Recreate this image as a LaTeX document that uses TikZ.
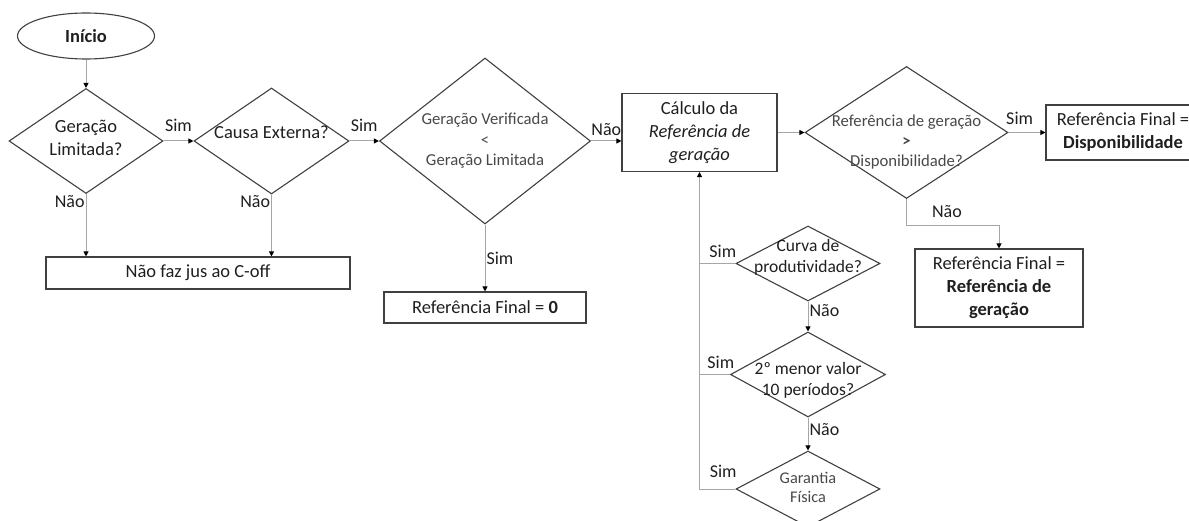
\documentclass[tikz,border=0pt]{standalone}
\usepackage{fontspec}
\setmainfont{Carlito}
\usepackage{xcolor}
\usepackage{tikz}
\usetikzlibrary{arrows.meta, positioning, calc, shapes.geometric}
\definecolor{cinzalinha}{HTML}{A6A6A6}
\definecolor{cinzaborda}{HTML}{404040}
\definecolor{cinzatexto}{HTML}{1F1F1F}
\definecolor{cinzaclaro}{HTML}{484848}
\newcommand{\dtexto}[2][0pt]{\makebox[0pt]{\raisebox{#1}[\height][\depth]{%
  \begin{tabular}{@{}c@{}}#2\end{tabular}}}}

\begin{document}
\begin{tikzpicture}[
  x=1pt, y=-1pt,
  >={Triangle[length=5pt, width=5pt, color=black]},
  every node/.style={font=\fontsize{18.5}{23}\selectfont, text=cinzatexto},
  inicio/.style={ellipse, draw=cinzaborda, line width=1.1pt, inner sep=0pt,
                 minimum width=137, minimum height=46,
                 font=\fontsize{18.5}{23}\selectfont\bfseries},
  decisao/.style={diamond, draw=cinzaborda, line width=1.1pt, inner sep=0pt},
  caixa/.style={rectangle, draw=cinzaborda, line width=1.1pt, inner sep=0pt,
                align=center},
  fluxo/.style={->, line width=1pt, cinzalinha},
  ligacao/.style={line width=1pt, cinzalinha},
  rotulo/.style={font=\fontsize{18}{22}\selectfont, inner sep=1pt}
]
\useasboundingbox (0,0) rectangle (1189,521);
\clip (0,0) rectangle (1189,521);

% inicio e primeiras perguntas
\node[inicio] (inicio) at (86,36) {Início};
\node[decisao, minimum width=154, minimum height=105] (limitada) at (86,141)
  {\dtexto[2pt]{Geração\\Limitada?}};
\node[decisao, minimum width=155, minimum height=106] (externa) at (271.5,141)
  {\dtexto[7pt]{Causa Externa?}};
\node[decisao, minimum width=211, minimum height=166, text=cinzaclaro,
      font=\fontsize{16.7}{20.5}\selectfont] (verificada) at (485,141)
  {\dtexto{Geração Verificada\\<\\Geração Limitada}};

\node[caixa, minimum width=304, minimum height=32] (naofaz) at (198,273)
  {Não faz jus ao C-off};
\node[caixa, minimum width=202, minimum height=31] (final0) at (485,307.5)
  {Referência Final = \textbf{0}};

% calculo da referencia
\node[caixa, minimum width=155, minimum height=78] (calculo) at (699.5,132.5)
  {Cálculo da\\\textit{Referência de}\\\textit{geração}};
\node[decisao, minimum width=203, minimum height=132, text=cinzaclaro,
      font=\fontsize{16.7}{20}\selectfont] (maior) at (906.5,132.5)
  {\dtexto[-10pt]{Referência de geração\\\textbf{>}\\Disponibilidade?}};
\node[caixa, minimum width=154, minimum height=55] (finaldisp) at (1123,132.5)
  {Referência Final =\\\textbf{Disponibilidade}};
\node[caixa, minimum width=168, minimum height=78] (finalref) at (999,288)
  {Referência Final =\\\textbf{Referência de}\\\textbf{geração}};

% alternativas para a referencia
\node[decisao, minimum width=144, minimum height=75,
      font=\fontsize{17.5}{21}\selectfont] (curva) at (808,263.5)
  {\dtexto[6pt]{Curva de\\produtividade?}};
\node[decisao, minimum width=155, minimum height=85,
      font=\fontsize{17.5}{21}\selectfont] (menor) at (808,374.5)
  {\dtexto[-6pt]{2º menor valor\\10 períodos?}};
\node[decisao, minimum width=144, minimum height=76, text=cinzaclaro,
      font=\fontsize{16.3}{19.5}\selectfont] (garantia) at (808,489)
  {\dtexto{Garantia\\Física}};

% ligacoes
\draw[fluxo] (inicio) -- (limitada);
\draw[fluxo] (limitada) -- node[rotulo, above=8pt]{Sim} (externa);
\draw[fluxo] (externa) -- node[rotulo, above=8pt]{Sim} (verificada);
\draw[fluxo] (limitada) -- node[rotulo, left, pos=0.12]{Não} (limitada |- naofaz.north);
\draw[fluxo] (externa) -- node[rotulo, left, pos=0.12]{Não} (externa |- naofaz.north);
\draw[fluxo] (verificada) -- node[rotulo, right]{Sim} (final0);
\draw[fluxo] (verificada.east) -- node[rotulo, above=4pt]{Não} (verificada.east -| calculo.west);
\draw[fluxo] (calculo) -- (maior);
\draw[fluxo] (maior) -- node[rotulo, above=6pt, pos=0.3]{Sim} (finaldisp);
\draw[fluxo] (maior.south) -- ++(0,26) node[rotulo, midway, right=24pt]{Não} -| (finalref.north);

\draw[fluxo] (curva) -- node[rotulo, right, pos=0.3]{Não} (menor);
\draw[fluxo] (menor) -- node[rotulo, right, pos=0.35]{Não} (garantia);
\draw[ligacao] (curva.west) -- node[rotulo, above=4pt, pos=0.35]{Sim} (curva.west -| calculo.south);
\draw[ligacao] (menor.west) -- node[rotulo, above=4pt, pos=0.3]{Sim} (menor.west -| calculo.south);
\draw[fluxo] (garantia.west) -| node[rotulo, above=10pt, pos=0.17]{Sim} (calculo.south);

\end{tikzpicture}
\end{document}
